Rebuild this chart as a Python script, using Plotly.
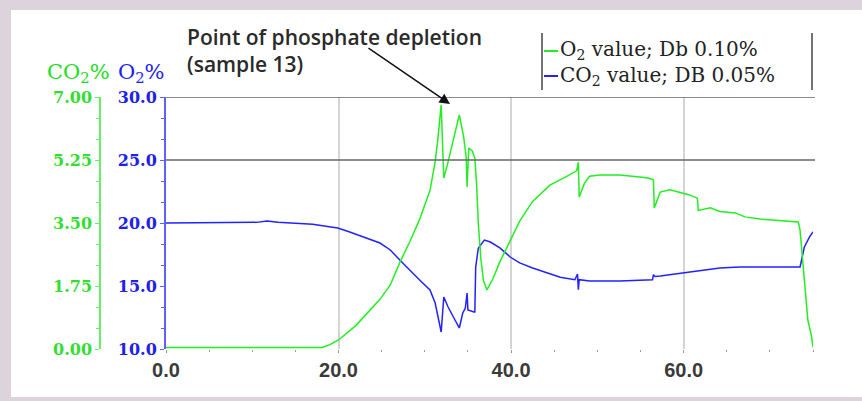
import plotly.graph_objects as go

# ---------------- data ----------------
TIME_CO2 = [0.0, 18.1, 19.0, 20.0, 22.0, 23.3, 24.8, 26.0, 27.1, 28.3, 29.4, 30.6, 31.2, 31.5, 31.9,
            32.2, 32.6, 33.3, 34.0, 34.5, 34.8, 34.9, 35.1, 35.5, 35.8, 36.0, 36.2, 36.5, 36.8, 37.2,
            37.9, 38.7, 40.0, 41.0, 42.5, 44.5, 46.5, 47.6, 47.8, 47.9, 48.5, 49.1, 50.3, 52.6, 54.9,
            55.9, 56.5, 56.6, 57.3, 58.4, 59.6, 60.7, 61.6, 61.7, 63.1, 64.2, 66.0, 67.1, 68.9, 70.6,
            73.3, 73.5, 73.7, 74.0, 74.2, 74.4, 74.8, 75.0]
CO2_PCT = [0.04, 0.04, 0.12, 0.25, 0.65, 1.0, 1.38, 1.78, 2.4, 3.0, 3.6, 4.4, 5.2, 5.8, 6.78,
           4.75, 5.1, 5.8, 6.5, 5.9, 5.33, 4.5, 5.58, 5.5, 5.3, 4.6, 3.5, 2.5, 1.9, 1.64,
           1.95, 2.42, 3.08, 3.55, 4.1, 4.55, 4.8, 4.95, 5.19, 4.22, 4.6, 4.8, 4.83, 4.83, 4.78,
           4.75, 4.7, 3.92, 4.36, 4.42, 4.35, 4.28, 4.19, 3.85, 3.92, 3.82, 3.78, 3.67, 3.61, 3.58,
           3.53, 3.3, 2.75, 1.92, 1.36, 0.81, 0.39, 0.05]

TIME_O2 = [0.0, 5.0, 10.5, 11.7, 13.0, 17.0, 19.9, 21.3, 23.3, 24.8, 26.0, 27.1, 29.4, 30.6, 31.2,
           31.7, 31.9, 32.2, 32.7, 33.5, 34.0, 34.4, 34.7, 34.9, 35.0, 35.7, 35.8, 35.9, 36.2, 36.9,
           37.6, 38.7, 39.9, 41.0, 42.5, 45.7, 47.4, 47.7, 47.8, 47.9, 49.1, 52.6, 55.0, 56.4, 56.5,
           56.7, 57.3, 59.6, 61.9, 64.2, 66.5, 73.5, 74.0, 74.6, 75.0]
O2_PCT = [20.0, 20.0, 20.05, 20.15, 20.05, 19.9, 19.6, 19.29, 18.81, 18.41, 17.86, 17.06, 15.48, 14.68, 13.65,
          12.06, 11.35, 14.13, 13.33, 12.3, 11.67, 12.86, 13.25, 14.44, 13.1, 12.94, 12.94, 16.5, 18.0, 18.65,
          18.49, 18.02, 17.3, 16.83, 16.43, 15.7, 15.5, 15.95, 14.7, 15.5, 15.4, 15.4, 15.45, 15.5, 15.9,
          15.75, 15.79, 16.0, 16.27, 16.43, 16.5, 16.51, 18.1, 18.9, 19.3]

X_TICKS = [0, 20, 40, 60]
X_TICK_TEXT = ["0.0", "20.0", "40.0", "60.0"]
O2_TICKS = [10, 15, 20, 25, 30]
O2_TICK_TEXT = ["10.0", "15.0", "20.0", "25.0", "30.0"]
CO2_TICKS = [0, 1.75, 3.5, 5.25, 7.0]
CO2_TICK_TEXT = ["0.00", "1.75", "3.50", "5.25", "7.00"]
REF_LINES_O2 = [25, 30]

SERIES_NAMES = ["O<sub>2</sub> value; Db 0.10%", "CO<sub>2</sub> value; DB 0.05%"]
NOTE_LINES = ["Point of phosphate depletion", "(sample 13)"]

GREEN = "#22ee22"
BLUE = "#2222ff"

# ---------------- geometry helpers ----------------
W, H = 862, 401
ML, MR, MT, MB = 100, 49, 97, 52
PW, PH = W - ML - MR, H - MT - MB


def px(x):
    return (x - ML) / PW


def py(y):
    return (H - MB - y) / PH


X0 = px(166)

fig = go.Figure()
fig.add_trace(go.Scatter(x=TIME_CO2, y=CO2_PCT, mode="lines", yaxis="y2",
                         line=dict(color=GREEN, width=1.5), name="CO2"))
fig.add_trace(go.Scatter(x=TIME_O2, y=O2_PCT, mode="lines", yaxis="y",
                         line=dict(color=BLUE, width=1.5), name="O2"))

shapes = [
    dict(type="rect", xref="paper", yref="paper", x0=px(11), x1=px(870), y0=py(397), y1=py(10),
         fillcolor="white", line=dict(width=0), layer="below"),
]
for v in REF_LINES_O2:
    shapes.append(dict(type="line", xref="paper", yref="y", x0=X0, x1=px(815), y0=v, y1=v,
                       line=dict(color="#666666", width=1.5)))
# legend frame and samples
for xx in (542, 812):
    shapes.append(dict(type="line", xref="paper", yref="paper", x0=px(xx), x1=px(xx),
                       y0=py(33), y1=py(90), line=dict(color="#444444", width=1.5)))
for yy, col in ((51, GREEN), (76, BLUE)):
    shapes.append(dict(type="line", xref="paper", yref="paper", x0=px(544), x1=px(558),
                       y0=py(yy), y1=py(yy), line=dict(color=col, width=2)))

annotations = []
annotations.append(dict(xref="paper", yref="paper", x=px(558), y=py(63),
                        text="<br>".join(SERIES_NAMES),
                        showarrow=False, xanchor="left", yanchor="middle", align="left",
                        font=dict(family="DejaVu Serif", size=20, color="#222222")))
annotations.append(dict(xref="paper", yref="paper", x=px(185), y=py(50),
                        text="<br>".join(NOTE_LINES),
                        showarrow=False, xanchor="left", yanchor="middle", align="left",
                        font=dict(family="Open Sans", size=21, color="#2a2a2a", weight=600)))
annotations.append(dict(xref="paper", yref="paper", x=px(450), y=py(104), text="",
                        showarrow=True, ax=367 - 450, ay=47 - 104, arrowhead=2, arrowsize=1.4,
                        arrowwidth=1.5, arrowcolor="#111111", standoff=0))
annotations.append(dict(xref="paper", yref="paper", x=px(78), y=py(73), text="CO<sub>2</sub>%",
                        showarrow=False, xanchor="center", yanchor="middle",
                        font=dict(family="DejaVu Serif", size=21, color="#22dd22")))
annotations.append(dict(xref="paper", yref="paper", x=px(141), y=py(73), text="O<sub>2</sub>%",
                        showarrow=False, xanchor="center", yanchor="middle",
                        font=dict(family="DejaVu Serif", size=21, color="#2222ee")))

fig.update_layout(
    width=W, height=H,
    margin=dict(l=ML, r=MR, t=MT, b=MB, pad=0),
    paper_bgcolor="#ddd3dd", plot_bgcolor="white",
    showlegend=False,
    shapes=shapes, annotations=annotations,
    xaxis=dict(domain=[X0, 1], range=[0, 75], tickmode="array", tickvals=X_TICKS,
               ticktext=X_TICK_TEXT, showgrid=True, gridcolor="#d4d4d4", gridwidth=1.5,
               zeroline=False, showline=False, ticks="outside", ticklen=3, tickcolor="#999999",
               tickfont=dict(family="Liberation Sans", size=20, color="#3a3a3a", weight="bold"),
               minor=dict(dtick=5, ticks="outside", ticklen=2, tickcolor="#999999", showgrid=False),
               fixedrange=True),
    yaxis=dict(range=[10, 30], anchor="x", tickmode="array", tickvals=O2_TICKS,
               ticktext=O2_TICK_TEXT, showgrid=False, zeroline=False, showline=True,
               linecolor="#6060ff", linewidth=2, ticks="outside", ticklen=4, tickcolor="#6060ff",
               tickfont=dict(family="DejaVu Serif", size=16, color="#2020ee", weight="bold"),
               minor=dict(dtick=5 / 3, tick0=10, ticks="outside", ticklen=3, tickcolor="#6060ff"),
               fixedrange=True),
    yaxis2=dict(range=[0, 7], overlaying="y", anchor="free", position=0, side="left",
                tickmode="array", tickvals=CO2_TICKS, ticktext=CO2_TICK_TEXT, showgrid=False,
                zeroline=False, showline=True, linecolor="#66ee66", linewidth=1.5,
                ticks="outside", ticklen=4, tickcolor="#66ee66",
                tickfont=dict(family="DejaVu Serif", size=16, color="#33dd33", weight="bold"),
                minor=dict(dtick=1.75 / 3, tick0=0, ticks="outside", ticklen=3, tickcolor="#66ee66"),
                fixedrange=True),
)

fig.write_html("out.html", config={"displayModeBar": False},
               post_script="document.body.style.margin='0';")
